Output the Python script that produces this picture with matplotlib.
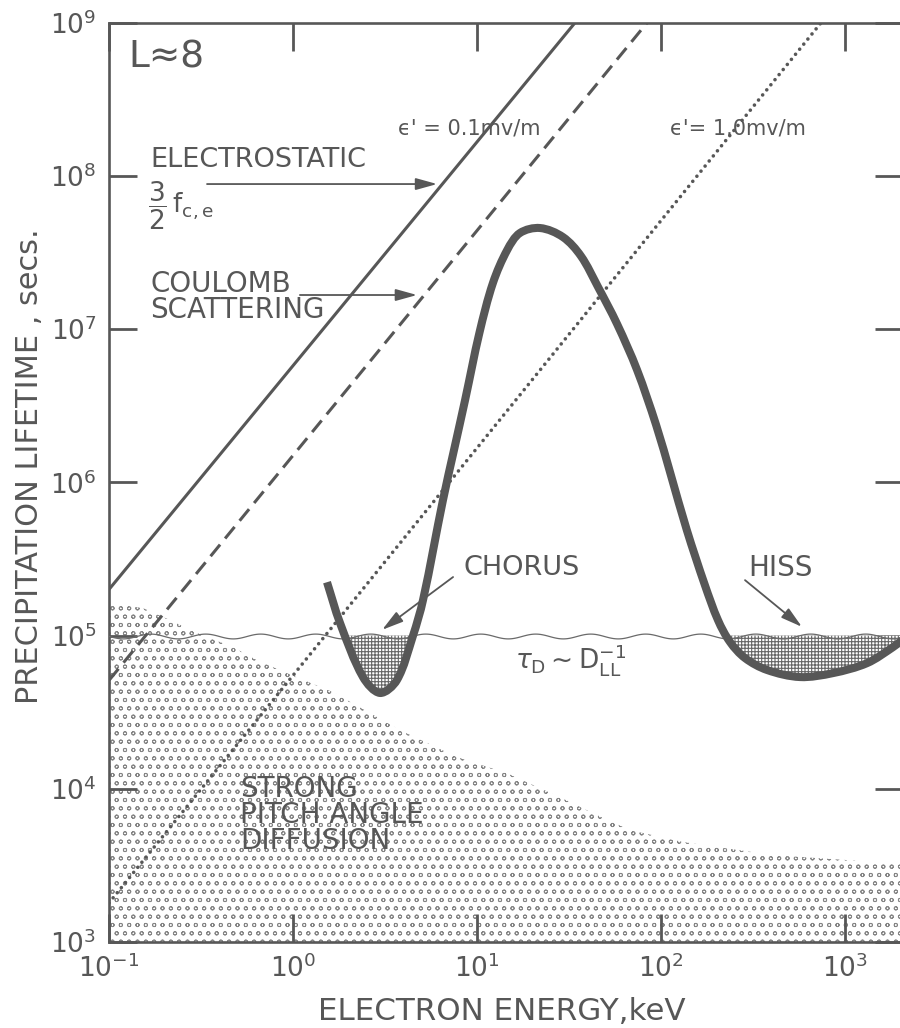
import numpy as np
import matplotlib
matplotlib.use("Agg")
import matplotlib.pyplot as plt
from matplotlib.ticker import NullLocator
from matplotlib.path import Path
from matplotlib.patches import PathPatch

plt.rcParams['font.family'] = ['DejaVu Sans']
plt.rcParams['mathtext.fontset'] = 'dejavusans'
plt.rcParams['hatch.linewidth'] = 0.8

INK = '#575757'

# ---- axis ranges ---------------------------------------------------------
E_MIN, E_MAX = 0.1, 2065.0          # keV
TAU_MIN, TAU_MAX = 1e3, 1e9         # s

x_ticks = [1e-1, 1e0, 1e1, 1e2, 1e3]
y_ticks = [1e3, 1e4, 1e5, 1e6, 1e7, 1e8, 1e9]

# ---- reference lifetimes (energy in keV, lifetime in s) ------------------
electrostatic_E = [0.1, 34.1]        # 3/2 f_c,e with eps' = 0.1 mV/m
electrostatic_tau = [2.0e5, 1.0e9]

coulomb_E = [0.1, 84.0]              # Coulomb scattering
coulomb_tau = [5.1e4, 1.0e9]

field_1mv_E = [0.1, 741.0]           # eps' = 1.0 mV/m
field_1mv_tau = [1.8e3, 1.0e9]

radial_E = [0.1, 2065.0]             # tau_D ~ 1/D_LL
radial_tau = [1.0e5, 1.0e5]

# wave-driven precipitation lifetime
wave_E = [1.53, 1.80, 2.40, 2.97, 3.67, 4.49, 5.09, 6.53, 7.50, 8.61,
          10.3, 12.2, 14.6, 17.1, 22.0, 29.3, 36.7, 45.5, 57.7, 74.1,
          94.0, 113, 138, 173, 204, 237, 286, 377, 569, 861, 1318, 1824, 2118]
wave_tau = [2.23e5, 1.21e5, 5.36e4, 4.22e4, 5.12e4, 1.00e5, 1.71e5, 7.66e5,
            1.63e6, 3.44e6, 9.44e6, 2.00e7, 3.29e7, 4.24e7, 4.57e7, 3.99e7,
            3.00e7, 1.88e7, 1.08e7, 5.41e6, 2.37e6, 1.12e6, 4.89e5, 2.14e5,
            1.26e5, 9.08e4, 7.13e4, 5.96e4, 5.36e4, 5.69e4, 6.61e4, 8.41e4,
            9.64e4]

# upper edge of the strong pitch-angle diffusion zone
strong_E = [0.1, 0.153, 0.215, 0.301, 0.472, 0.637, 0.927, 1.65, 3.82,
            7.78, 14.6, 28.2, 44.9, 67.9, 132, 406, 1820, 2065]
strong_tau = [1.63e5, 1.51e5, 1.26e5, 1.04e5, 8.39e4, 6.90e4, 5.68e4,
              4.27e4, 2.41e4, 1.61e4, 1.26e4, 8.81e3, 6.73e3, 5.37e3,
              4.49e3, 3.69e3, 3.27e3, 3.20e3]


def smooth_log_path(xs, ys, sx=184.0, sy=153.2):
    """Cubic Bezier path through (xs, ys), smooth in log-log space."""
    lx = np.log10(xs) * sx
    ly = np.log10(ys) * sy
    P = np.column_stack([lx, ly])
    n = len(P)
    t = np.concatenate([[0], np.cumsum(np.hypot(*np.diff(P, axis=0).T))])
    m = np.zeros_like(P)
    for i in range(n):
        a, b = max(i - 1, 0), min(i + 1, n - 1)
        m[i] = (P[b] - P[a]) / (t[b] - t[a])
    verts = [P[0]]
    codes = [Path.MOVETO]
    for i in range(n - 1):
        h = (t[i + 1] - t[i]) / 3.0
        verts += [P[i] + m[i] * h, P[i + 1] - m[i + 1] * h, P[i + 1]]
        codes += [Path.CURVE4] * 3
    V = np.array(verts)
    V = np.column_stack([10 ** (V[:, 0] / sx), 10 ** (V[:, 1] / sy)])
    return Path(V, codes)


# ---- figure ----------------------------------------------------------------
W, H = 900, 1028
fig = plt.figure(figsize=(W / 100, H / 100), dpi=100)
ax = fig.add_axes([109 / W, 86 / H, 794 / W, 919.3 / H])


def px(x, y):
    """Figure-fraction coordinates from pixel position (origin top-left)."""
    return x / W, 1 - y / H


ax.set_xscale('log')
ax.set_yscale('log')
ax.set_xlim(E_MIN, E_MAX)
ax.set_ylim(TAU_MIN, TAU_MAX)
ax.set_xticks(x_ticks)
ax.set_yticks(y_ticks)
ax.xaxis.set_minor_locator(NullLocator())
ax.yaxis.set_minor_locator(NullLocator())
ax.tick_params(which='major', direction='in', length=20, width=2,
               top=True, right=True, colors=INK, labelsize=19, pad=9)
for s in ax.spines.values():
    s.set_color(INK)
    s.set_linewidth(1.9)

# strong pitch angle diffusion (stippled)
with plt.rc_context({'hatch.linewidth': 0.65}):
    ax.fill_between(strong_E, strong_tau, TAU_MIN, facecolor='none',
                    edgecolor='#858585', hatch='oo', linewidth=0, zorder=1)

# wave-induced losses below the radial diffusion lifetime
wt = np.array(wave_tau)
ax.fill_between(wave_E, wave_tau, 1e5, where=wt < 1e5, interpolate=True,
                facecolor='white', edgecolor='#666666', hatch='+++++',
                linewidth=0, zorder=3)

# radial diffusion lifetime, drawn as a wavy line
rad, = ax.plot(radial_E, radial_tau, color='#6a6a6a', lw=0.9, zorder=4)
rad.set_sketch_params(scale=2.4, length=55, randomness=1)

ax.plot(electrostatic_E, electrostatic_tau, color=INK, lw=2.2, zorder=4)
ax.plot(coulomb_E, coulomb_tau, color=INK, lw=2.2,
        linestyle=(0, (4.9, 2.6)), zorder=4)
ax.plot(field_1mv_E, field_1mv_tau, color=INK, lw=2.6,
        linestyle=(0, (0.01, 1.8)), dash_capstyle='round', zorder=4)

ax.add_patch(PathPatch(smooth_log_path(wave_E, wave_tau), fill=False,
                       edgecolor=INK, lw=5.8, capstyle='butt',
                       joinstyle='round', zorder=6))

# arrows
arrow_kw = dict(arrowstyle='-|>,head_length=0.65,head_width=0.18',
                color=INK, lw=1.3, shrinkA=0, shrinkB=0, mutation_scale=20)
ax.annotate('', xy=(6.07, 8.85e7), xytext=(0.341, 8.85e7), arrowprops=arrow_kw, zorder=7)
ax.annotate('', xy=(4.72, 1.67e7), xytext=(1.09, 1.67e7), arrowprops=arrow_kw, zorder=7)
ax.annotate('', xy=(3.05, 1.09e5), xytext=(7.41, 2.41e5), arrowprops=arrow_kw, zorder=7)
ax.annotate('', xy=(583, 1.14e5), xytext=(286, 2.30e5), arrowprops=arrow_kw, zorder=7)

# labels
tk = dict(color=INK, ha='left', va='center')
fig.text(*px(128, 57), 'L≈8', fontsize=27, **tk)
fig.text(*px(398, 128), "ϵ' = 0.1mv/m", fontsize=15, **tk)
fig.text(*px(670, 128), "ϵ'= 1.0mv/m", fontsize=15, **tk)
fig.text(*px(150, 160), 'ELECTROSTATIC', fontsize=19.5, **tk)
fig.text(*px(148, 206), r'$\dfrac{3}{2}\,\mathregular{f}_{\mathregular{c,e}}$', fontsize=19, **tk)
fig.text(*px(150, 297), 'COULOMB\nSCATTERING', fontsize=20, linespacing=0.9, **tk)
fig.text(*px(463, 568), 'CHORUS', fontsize=19.5, **tk)
fig.text(*px(748, 568), 'HISS', fontsize=20, **tk)
fig.text(*px(515, 660), r'$\tau_{\mathregular{D}}\sim\mathregular{D}_{\mathregular{LL}}^{-1}$', fontsize=19, **tk)
fig.text(*px(240, 815), 'STRONG\nPITCH ANGLE\nDIFFUSION', fontsize=20, linespacing=0.92, **tk)

fig.text(*px(502, 1011), 'ELECTRON ENERGY,keV', fontsize=22.3, color=INK, ha='center', va='center')
fig.text(*px(30, 466), 'PRECIPITATION LIFETIME , secs.', fontsize=21.9, color=INK,
         ha='center', va='center', rotation=90)

fig.savefig('out.png', dpi=100, facecolor='white')
